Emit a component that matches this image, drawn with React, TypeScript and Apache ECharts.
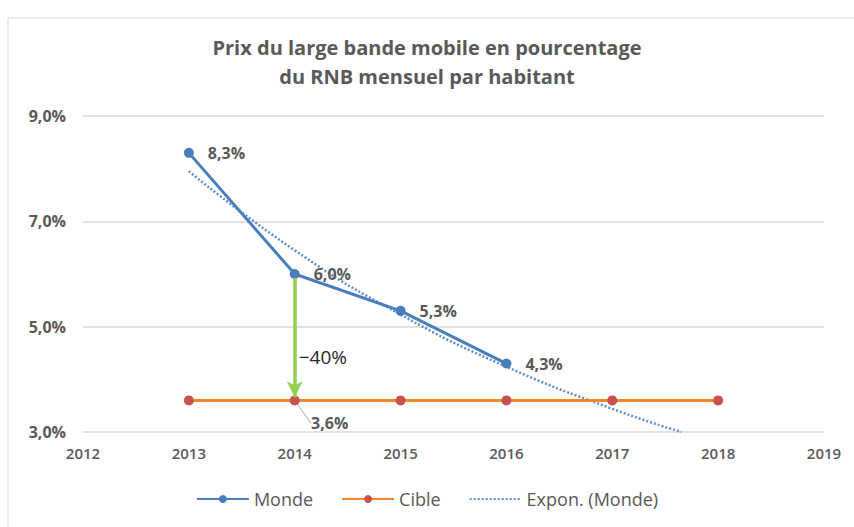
import React, { useEffect, useRef } from "react";
import * as echarts from "echarts";

const title = "Prix du large bande mobile en pourcentage\ndu RNB mensuel par habitant";
const years = [2013, 2014, 2015, 2016];
const monde = [8.3, 6.0, 5.3, 4.3];
const cibleYears = [2013, 2014, 2015, 2016, 2017, 2018];
const cible = [3.6, 3.6, 3.6, 3.6, 3.6, 3.6];
const cibleLabelYear = 2014;
const trendYears = [2013, 2014, 2015, 2016, 2017, 2017.65];
const trendValues = [7.95, 6.45, 5.23, 4.24, 3.44, 3.0];
const arrowFrom = [2014, 5.92];
const arrowTo = [2014, 3.66];
const arrowLabel = "\u221240%";
const yTicks = [3, 5, 7, 9];

const fmt = (v: number) => v.toFixed(1).replace(".", ",") + "%";
const FONT = "Open Sans";
const GRAY = "#595959";

export default function App() {
  const ref = useRef<HTMLDivElement>(null);
  useEffect(() => {
    const chart = echarts.init(ref.current!, null, { renderer: "svg" });
    const labelStyle = {
      color: GRAY,
      fontSize: 16,
      fontWeight: "bold",
      fontFamily: FONT,
    };
    chart.setOption({
      animation: false,
      backgroundColor: "#fff",
      textStyle: { fontFamily: FONT },
      graphic: [
        {
          type: "rect",
          shape: { x: 8, y: 18, width: 900, height: 600 },
          style: { fill: "none", stroke: "#d9d9d9", lineWidth: 1 },
          silent: true,
        },
      ],
      title: {
        text: title,
        left: "center",
        top: 28,
        textStyle: {
          fontFamily: FONT,
          fontSize: 20,
          fontWeight: "bold",
          color: GRAY,
          lineHeight: 29,
        },
      },
      legend: {
        bottom: 14,
        left: "center",
        itemWidth: 52,
        itemHeight: 10,
        itemGap: 28,
        textStyle: { fontFamily: FONT, fontSize: 18, color: GRAY },
        data: [
          "Monde",
          "Cible",
          { name: "Expon. (Monde)", itemStyle: { opacity: 0 } },
        ],
      },
      grid: { left: 83, right: 30, top: 116, bottom: 95 },
      xAxis: {
        type: "value",
        min: 2012,
        max: 2019,
        interval: 1,
        axisLine: { show: false },
        axisTick: { show: false },
        splitLine: { show: false },
        axisLabel: {
          color: GRAY,
          fontSize: 15,
          fontWeight: 600,
          fontFamily: FONT,
          margin: 13,
          formatter: (v: number) => String(v),
        },
      },
      yAxis: {
        type: "value",
        min: yTicks[0],
        max: yTicks[yTicks.length - 1],
        interval: 2,
        axisLine: { show: false },
        axisTick: { show: false },
        splitLine: { lineStyle: { color: "#d9d9d9", width: 1.5 } },
        axisLabel: {
          color: GRAY,
          fontSize: 16,
          fontWeight: "bold",
          fontFamily: FONT,
          margin: 17,
          formatter: (v: number) => fmt(v),
        },
      },
      series: [
        {
          name: "Expon. (Monde)",
          type: "line",
          smooth: true,
          symbol: "none",
          data: trendYears.map((x, i) => [x, trendValues[i]]),
          lineStyle: { color: "#5b8fd6", width: 2.5, type: [2, 2] },
          itemStyle: { color: "#5b8fd6" },
          z: 1,
        },
        {
          name: "Cible",
          type: "line",
          symbol: "circle",
          symbolSize: 10,
          data: cibleYears.map((x, i) =>
            x === cibleLabelYear
              ? {
                  value: [x, cible[i]],
                  label: {
                    show: true,
                    position: "bottom",
                    distance: 8,
                    formatter: (p: any) => fmt(p.value[1]),
                    ...labelStyle,
                  },
                }
              : [x, cible[i]]
          ),
          lineStyle: { color: "#f08a2a", width: 3 },
          itemStyle: { color: "#c8504d" },
          labelLine: { show: true, lineStyle: { color: "#a6a6a6", width: 1 } },
          labelLayout: (p: any) =>
            p.dataIndex === 1 ? { dx: 35, dy: 2 } : {},
          z: 2,
        },
        {
          name: "Monde",
          type: "line",
          symbol: "circle",
          symbolSize: 10,
          data: years.map((x, i) => [x, monde[i]]),
          lineStyle: { color: "#4a7ebb", width: 3 },
          itemStyle: { color: "#4a7ebb" },
          label: {
            show: true,
            position: "right",
            distance: 14,
            formatter: (p: any) => fmt(p.value[1]),
            ...labelStyle,
          },
          markLine: {
            silent: true,
            symbol: ["none", "arrow"],
            symbolSize: [12, 16],
            lineStyle: { color: "#92d050", width: 3.5, type: "solid" },
            label: {
              show: true,
              position: "middle",
              formatter: arrowLabel,
              color: "#262626",
              fontSize: 19,
              fontFamily: FONT,
              offset: [4, 34],
              align: "left",
              rotate: 0,
            },
            data: [[{ coord: arrowFrom }, { coord: arrowTo }]],
          },
          z: 4,
        },
      ],
    });
    return () => chart.dispose();
  }, []);
  return (
    <div
      ref={ref}
      style={{ position: "fixed", left: 0, top: 0, width: 854, height: 527 }}
    />
  );
}
